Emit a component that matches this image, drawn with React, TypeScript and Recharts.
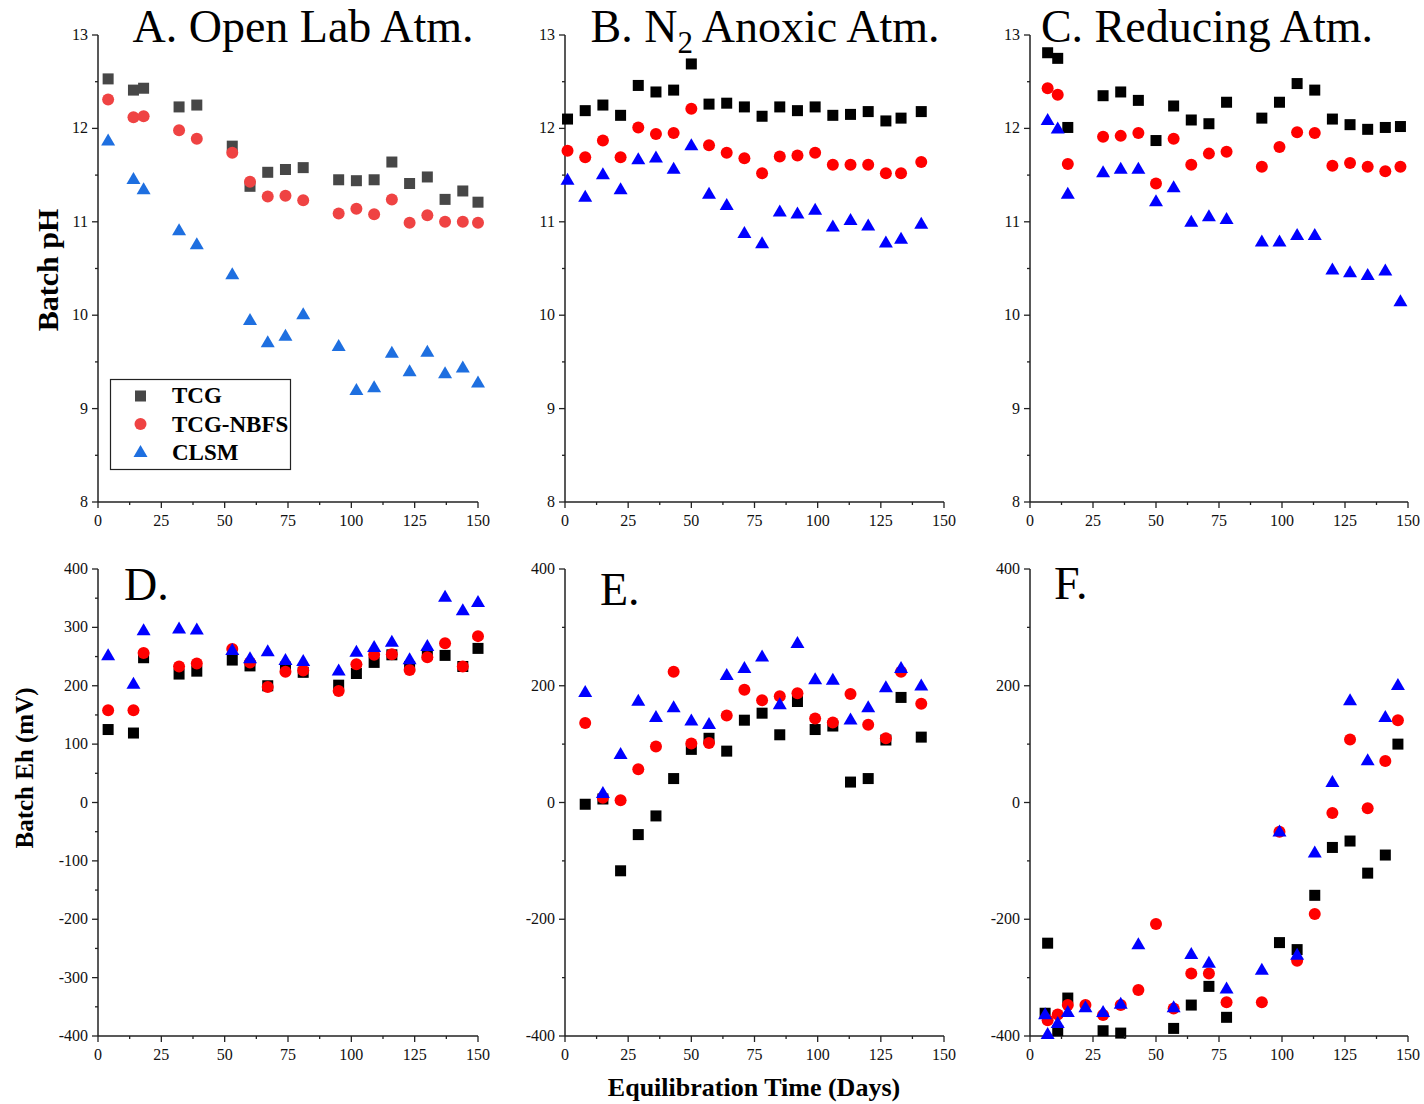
import React from 'react'
import { ScatterChart, Scatter, XAxis, YAxis } from 'recharts'

const FONT = '"Liberation Serif", "Times New Roman", serif'
const AXIS = '#222'

// Panel A / D sampling days (open lab)
const A_DAYS = [4, 14, 18, 32, 39, 53, 60, 67, 74, 81, 95, 102, 109, 116, 123, 130, 137, 144, 150]
const A_TCG = [12.53, 12.41, 12.43, 12.23, 12.25, 11.81, 11.38, 11.53, 11.56, 11.58, 11.45, 11.44, 11.45, 11.64, 11.41, 11.48, 11.24, 11.33, 11.21]
const A_NBFS = [12.31, 12.12, 12.13, 11.98, 11.89, 11.74, 11.43, 11.27, 11.28, 11.23, 11.09, 11.14, 11.08, 11.24, 10.99, 11.07, 11.0, 11.0, 10.99]
const A_CLSM = [11.88, 11.47, 11.36, 10.92, 10.77, 10.45, 9.96, 9.72, 9.79, 10.02, 9.68, 9.21, 9.24, 9.61, 9.41, 9.62, 9.39, 9.45, 9.29]

const D_TCG = [125, 119, 248, 220, 225, 244, 234, 200, 232, 223, 201, 221, 240, 253, 233, 254, 252, 233, 264]
const D_NBFS = [158, 158, 256, 233, 238, 263, 240, 198, 224, 226, 191, 237, 253, 254, 227, 249, 273, 233, 285]
const D_CLSM = [254, 205, 297, 300, 298, 263, 249, 261, 246, 244, 228, 260, 268, 277, 247, 270, 354, 331, 345]

// Panel B (N2 anoxic)
const B_DAYS = [1, 8, 15, 22, 29, 36, 43, 50, 57, 64, 71, 78, 85, 92, 99, 106, 113, 120, 127, 133, 141]
const B_TCG = [12.1, 12.19, 12.25, 12.14, 12.46, 12.39, 12.41, 12.69, 12.26, 12.27, 12.23, 12.13, 12.23, 12.19, 12.23, 12.14, 12.15, 12.18, 12.08, 12.11, 12.18]
const B_NBFS = [11.76, 11.69, 11.87, 11.69, 12.01, 11.94, 11.95, 12.21, 11.82, 11.74, 11.68, 11.52, 11.7, 11.71, 11.74, 11.61, 11.61, 11.61, 11.52, 11.52, 11.64]
const B_CLSM = [11.46, 11.28, 11.52, 11.36, 11.68, 11.7, 11.58, 11.83, 11.31, 11.19, 10.89, 10.78, 11.12, 11.1, 11.14, 10.96, 11.03, 10.97, 10.79, 10.83, 10.99]

// Panel E (N2 anoxic Eh)
const E_DAYS = [8, 15, 22, 29, 36, 43, 50, 57, 64, 71, 78, 85, 92, 99, 106, 113, 120, 127, 133, 141]
const E_TCG = [-3, 6, -117, -55, -23, 41, 91, 110, 88, 141, 153, 116, 173, 125, 131, 35, 41, 107, 180, 112]
const E_NBFS = [136, 8, 4, 57, 96, 224, 101, 102, 149, 193, 175, 182, 187, 144, 137, 186, 133, 110, 224, 169]
const E_CLSM = [191, 18, 85, 176, 148, 165, 142, 136, 220, 232, 252, 170, 275, 213, 212, 144, 165, 199, 232, 202]

// Panel C (reducing)
const C_DAYS = [7, 11, 15, 29, 36, 43, 50, 57, 64, 71, 78, 92, 99, 106, 113, 120, 127, 134, 141, 147]
const C_TCG = [12.81, 12.75, 12.01, 12.35, 12.39, 12.3, 11.87, 12.24, 12.09, 12.05, 12.28, 12.11, 12.28, 12.48, 12.41, 12.1, 12.04, 11.99, 12.01, 12.02]
const C_NBFS = [12.43, 12.36, 11.62, 11.91, 11.92, 11.95, 11.41, 11.89, 11.61, 11.73, 11.75, 11.59, 11.8, 11.96, 11.95, 11.6, 11.63, 11.59, 11.54, 11.59]
const C_CLSM = [12.1, 12.01, 11.31, 11.54, 11.58, 11.58, 11.23, 11.38, 11.01, 11.07, 11.04, 10.8, 10.8, 10.87, 10.87, 10.5, 10.47, 10.44, 10.49, 10.16]

// Panel F (reducing Eh)
const F_DAYS = [6, 7, 11, 15, 22, 29, 36, 43, 50, 57, 64, 71, 78, 92, 99, 106, 113, 120, 127, 134, 141, 146]
const F_TCG = [-361, -241, -391, -335, null, -391, -395, null, null, -387, -347, -315, -368, null, -240, -252, -159, -77, -66, -121, -90, 100]
const F_NBFS = [null, -373, -363, -347, -347, -364, -347, -321, -208, -353, -293, -293, -342, -342, -50, -271, -191, -18, 108, -10, 71, 141]
const F_CLSM = [-361, -395, -376, -357, -349, -357, -343, -241, null, -349, -258, -273, -317, -285, -48, -259, -84, 37, 177, 74, 148, 203]

const X_TICKS = [0, 12.5, 25, 37.5, 50, 62.5, 75, 87.5, 100, 112.5, 125, 137.5, 150]
const PH_TICKS = [8, 8.5, 9, 9.5, 10, 10.5, 11, 11.5, 12, 12.5, 13]
const EH_TICKS_D = [-400, -350, -300, -250, -200, -150, -100, -50, 0, 50, 100, 150, 200, 250, 300, 350, 400]
const EH_TICKS_EF = [-400, -300, -200, -100, 0, 100, 200, 300, 400]

const SOFT = { tcg: '#474747', nbfs: '#ef4343', clsm: '#1e6fe0' }
const PURE = { tcg: '#000000', nbfs: '#ff0000', clsm: '#0000ff' }

type Pt = { x: number; y: number }
const toPoints = (days: number[], vals: (number | null)[]): Pt[] =>
  days.map((d, i) => ({ x: d, y: vals[i] })).filter(p => p.y !== null) as Pt[]

const square = (color: string) => (props: any) => (
  <rect x={props.cx - 5.5} y={props.cy - 5.5} width={11} height={11} fill={color} />
)
const dot = (color: string) => (props: any) => <circle cx={props.cx} cy={props.cy} r={6} fill={color} />
const tri = (color: string) => (props: any) => {
  const { cx, cy } = props
  return <polygon points={`${cx},${cy - 6} ${cx + 7},${cy + 6} ${cx - 7},${cy + 6}`} fill={color} />
}

const tickText = { fontFamily: FONT, fontSize: 16, fill: '#111' }

const XTick = (props: any) => {
  const { x, y, payload } = props
  const major = payload.value % 25 === 0
  return (
    <g>
      <line x1={x} x2={x} y1={y} y2={y + (major ? 6 : 3)} stroke={AXIS} strokeWidth={1.3} />
      {major && (
        <text x={x} y={y + 24} textAnchor="middle" style={tickText}>
          {payload.value}
        </text>
      )}
    </g>
  )
}

const makeYTick = (step: number) => (props: any) => {
  const { x, y, payload } = props
  const major = Math.abs(payload.value / step - Math.round(payload.value / step)) < 1e-6
  return (
    <g>
      <line x1={x - (major ? 6 : 3)} x2={x} y1={y} y2={y} stroke={AXIS} strokeWidth={1.3} />
      {major && (
        <text x={x - 10} y={y + 5} textAnchor="end" style={tickText}>
          {payload.value}
        </text>
      )}
    </g>
  )
}

interface PanelProps {
  left: number
  top: number
  plotW: number
  yDomain: [number, number]
  yTicks: number[]
  yStep: number
  days: number[]
  tcg: (number | null)[]
  nbfs: (number | null)[]
  clsm: (number | null)[]
  colors: { tcg: string; nbfs: string; clsm: string }
}

const PLOT_H = 467

function Panel({ left, top, plotW, yDomain, yTicks, yStep, days, tcg, nbfs, clsm, colors }: PanelProps) {
  return (
    <div style={{ position: 'absolute', left: left - 60, top: top - 12 }}>
      <ScatterChart width={plotW + 74} height={PLOT_H + 52} margin={{ top: 12, right: 14, bottom: 0, left: 0 }}>
        <XAxis
          type="number"
          dataKey="x"
          domain={[0, 150]}
          ticks={X_TICKS}
          interval={0}
          height={40}
          tickSize={0}
          tickMargin={0}
          tickLine={false}
          axisLine={{ stroke: AXIS, strokeWidth: 1.5 }}
          tick={XTick}
        />
        <YAxis
          type="number"
          dataKey="y"
          domain={yDomain}
          ticks={yTicks}
          interval={0}
          width={60}
          tickSize={0}
          tickMargin={0}
          tickLine={false}
          axisLine={{ stroke: AXIS, strokeWidth: 1.5 }}
          tick={makeYTick(yStep)}
        />
        <Scatter data={toPoints(days, tcg)} shape={square(colors.tcg)} isAnimationActive={false} />
        <Scatter data={toPoints(days, nbfs)} shape={dot(colors.nbfs)} isAnimationActive={false} />
        <Scatter data={toPoints(days, clsm)} shape={tri(colors.clsm)} isAnimationActive={false} />
      </ScatterChart>
    </div>
  )
}

export default function App() {
  const titleStyle = { fontFamily: FONT, fontSize: 46, fill: '#000' }
  const boldLabel = { fontFamily: FONT, fontWeight: 700, fill: '#000' }
  return (
    <div style={{ position: 'absolute', left: 0, top: 0, width: 1424, height: 1104, background: '#fff' }}>
      <Panel left={98} top={35} plotW={380} yDomain={[8, 13]} yTicks={PH_TICKS} yStep={1}
        days={A_DAYS} tcg={A_TCG} nbfs={A_NBFS} clsm={A_CLSM} colors={SOFT} />
      <Panel left={565} top={35} plotW={379} yDomain={[8, 13]} yTicks={PH_TICKS} yStep={1}
        days={B_DAYS} tcg={B_TCG} nbfs={B_NBFS} clsm={B_CLSM} colors={PURE} />
      <Panel left={1030} top={35} plotW={378} yDomain={[8, 13]} yTicks={PH_TICKS} yStep={1}
        days={C_DAYS} tcg={C_TCG} nbfs={C_NBFS} clsm={C_CLSM} colors={PURE} />
      <Panel left={98} top={569} plotW={380} yDomain={[-400, 400]} yTicks={EH_TICKS_D} yStep={100}
        days={A_DAYS} tcg={D_TCG} nbfs={D_NBFS} clsm={D_CLSM} colors={PURE} />
      <Panel left={565} top={569} plotW={379} yDomain={[-400, 400]} yTicks={EH_TICKS_EF} yStep={200}
        days={E_DAYS} tcg={E_TCG} nbfs={E_NBFS} clsm={E_CLSM} colors={PURE} />
      <Panel left={1030} top={569} plotW={378} yDomain={[-400, 400]} yTicks={EH_TICKS_EF} yStep={200}
        days={F_DAYS} tcg={F_TCG} nbfs={F_NBFS} clsm={F_CLSM} colors={PURE} />

      <svg width={1424} height={1104} style={{ position: 'absolute', left: 0, top: 0, pointerEvents: 'none' }}>
        <text x={303} y={42} textAnchor="middle" style={titleStyle}>A. Open Lab Atm.</text>
        <text x={765} y={42} textAnchor="middle" style={titleStyle}>
          B. N<tspan fontSize={31} dy={11}>2</tspan>
          <tspan dy={-11}> Anoxic Atm.</tspan>
        </text>
        <text x={1207} y={42} textAnchor="middle" style={titleStyle}>C. Reducing Atm.</text>
        <text x={124} y={600} style={titleStyle}>D.</text>
        <text x={600} y={605} style={titleStyle}>E.</text>
        <text x={1054} y={599} style={titleStyle}>F.</text>

        <text transform="translate(58,270) rotate(-90)" textAnchor="middle" style={{ ...boldLabel, fontSize: 30 }}>
          Batch pH
        </text>
        <text transform="translate(33,768) rotate(-90)" textAnchor="middle" style={{ ...boldLabel, fontSize: 25 }}>
          Batch Eh (mV)
        </text>
        <text x={754} y={1096} textAnchor="middle" style={{ ...boldLabel, fontSize: 26 }}>
          Equilibration Time (Days)
        </text>

        <rect x={110.5} y={379.5} width={180} height={90} fill="none" stroke={AXIS} strokeWidth={1.2} />
        <rect x={135} y={390.5} width={11} height={11} fill={SOFT.tcg} />
        <circle cx={140.5} cy={424} r={6} fill={SOFT.nbfs} />
        <polygon points="140.5,445 147.5,457 133.5,457" fill={SOFT.clsm} />
        <text x={172} y={403} style={{ ...boldLabel, fontSize: 23 }}>TCG</text>
        <text x={172} y={432} style={{ ...boldLabel, fontSize: 23 }}>TCG-NBFS</text>
        <text x={172} y={460} style={{ ...boldLabel, fontSize: 23 }}>CLSM</text>
      </svg>
    </div>
  )
}
